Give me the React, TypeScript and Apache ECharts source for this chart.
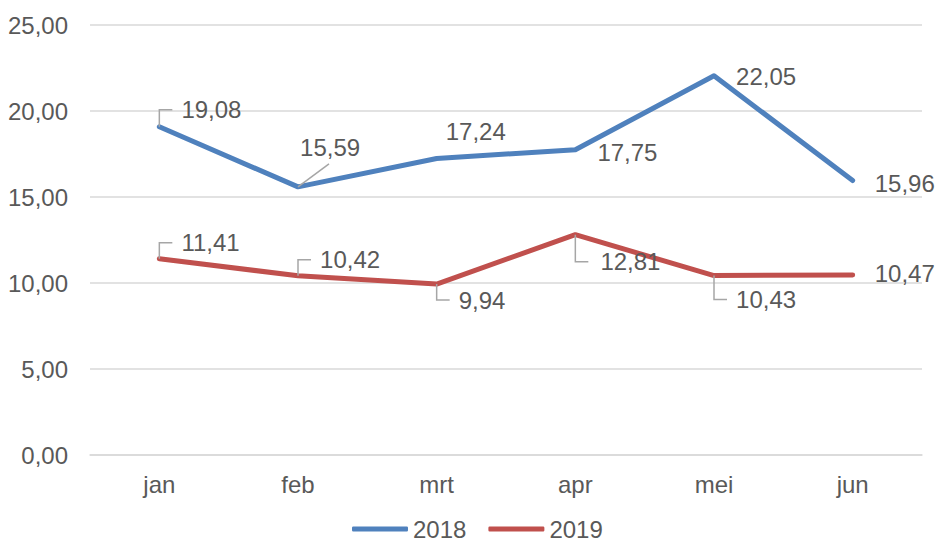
import React, { useEffect, useRef } from "react";
import * as echarts from "echarts";

const categories = ["jan", "feb", "mrt", "apr", "mei", "jun"];
const values2018 = [19.08, 15.59, 17.24, 17.75, 22.05, 15.96];
const values2019 = [11.41, 10.42, 9.94, 12.81, 10.43, 10.47];
const yTicks = { min: 0, max: 25, interval: 5 };

// label offsets (dx, dy)
const offsets2018: [number, number][] = [
  [0, -17],
  [-20, -39],
  [-13, -27],
  [0, 3],
  [0, 1],
  [0, 3],
];
const offsets2019: [number, number][] = [
  [0, -16],
  [0, -16],
  [0, 16],
  [3, 27],
  [0, 24],
  [0, -1],
];
// leader line kind per point
const leaders2018 = ["elbow", "diag", "", "", "", ""];
const leaders2019 = ["elbow", "elbow", "elbow", "elbow", "elbow", ""];

const fmt = (v: number) => v.toFixed(2).replace(".", ",");
const FONT = "'Liberation Sans', Arial, sans-serif";
const TEXT = "#595959";
const FS = 24;

export default function App() {
  const ref = useRef<HTMLDivElement>(null);
  useEffect(() => {
    if (!ref.current) return;
    const chart = echarts.init(ref.current, undefined, { renderer: "svg" });
    const mkSeries = (name: string, vals: number[], offs: [number, number][], color: string) => ({
      name,
      type: "line",
      data: vals,
      symbol: "circle",
      symbolSize: 0.1,
      showSymbol: true,
      z: 2,
      lineStyle: { color, width: 5, cap: "round", join: "round" },
      itemStyle: { color },
      label: {
        show: true,
        position: "right",
        distance: 22,
        fontFamily: FONT,
        fontSize: FS,
        color: TEXT,
        formatter: (p: any) => fmt(Number(p.value)),
      },
      labelLayout: (p: any) => {
        const o = offs[p.dataIndex];
        return { dx: o[0], dy: o[1] };
      },
    });
    const mkLeaders = (vals: number[], offs: [number, number][], kinds: string[]) => ({
      type: "custom",
      coordinateSystem: "cartesian2d",
      z: 3,
      silent: true,
      data: vals.map((v, i) => [i, v]),
      renderItem: (params: any, api: any) => {
        const i = params.dataIndex;
        const kind = kinds[i];
        if (!kind) return null;
        const p = api.coord([api.value(0), api.value(1)]);
        const dy = offs[i][1];
        const pts =
          kind === "diag"
            ? [[p[0], p[1]], [p[0] + 31, p[1] + dy + 16]]
            : [[p[0], p[1]], [p[0], p[1] + dy], [p[0] + 13, p[1] + dy]];
        return {
          type: "polyline",
          shape: { points: pts },
          style: { stroke: "#a6a6a6", lineWidth: 1.5, fill: "none" },
        };
      },
    });
    chart.setOption({
      animation: false,
      grid: { left: 90, right: 16, top: 25, bottom: 88 },
      legend: {
        bottom: 0,
        left: 347,
        padding: [2, 5, 2, 5],
        icon: "roundRect",
        itemWidth: 56,
        itemHeight: 5,
        itemGap: 22,
        textStyle: { fontFamily: FONT, fontSize: FS, color: TEXT, lineHeight: 24 },
        data: ["2018", "2019"],
      },
      xAxis: {
        type: "category",
        data: categories,
        boundaryGap: true,
        axisLine: { show: true, lineStyle: { color: "#d9d9d9", width: 1.5 } },
        axisTick: { show: false },
        axisLabel: { fontFamily: FONT, fontSize: FS, color: TEXT, margin: 17 },
      },
      yAxis: {
        type: "value",
        min: yTicks.min,
        max: yTicks.max,
        interval: yTicks.interval,
        axisLine: { show: false },
        axisTick: { show: false },
        splitLine: { lineStyle: { color: "#d9d9d9", width: 1.5 } },
        axisLabel: {
          fontFamily: FONT,
          fontSize: FS,
          color: TEXT,
          margin: 22,
          formatter: (v: number) => fmt(v),
        },
      },
      series: [
        mkSeries("2018", values2018, offsets2018, "#4f81bd"),
        mkSeries("2019", values2019, offsets2019, "#c0504d"),
        mkLeaders(values2018, offsets2018, leaders2018),
        mkLeaders(values2019, offsets2019, leaders2019),
      ],
    });
    return () => chart.dispose();
  }, []);
  return <div ref={ref} style={{ width: 938, height: 543, position: "absolute", left: 0, top: 0 }} />;
}
